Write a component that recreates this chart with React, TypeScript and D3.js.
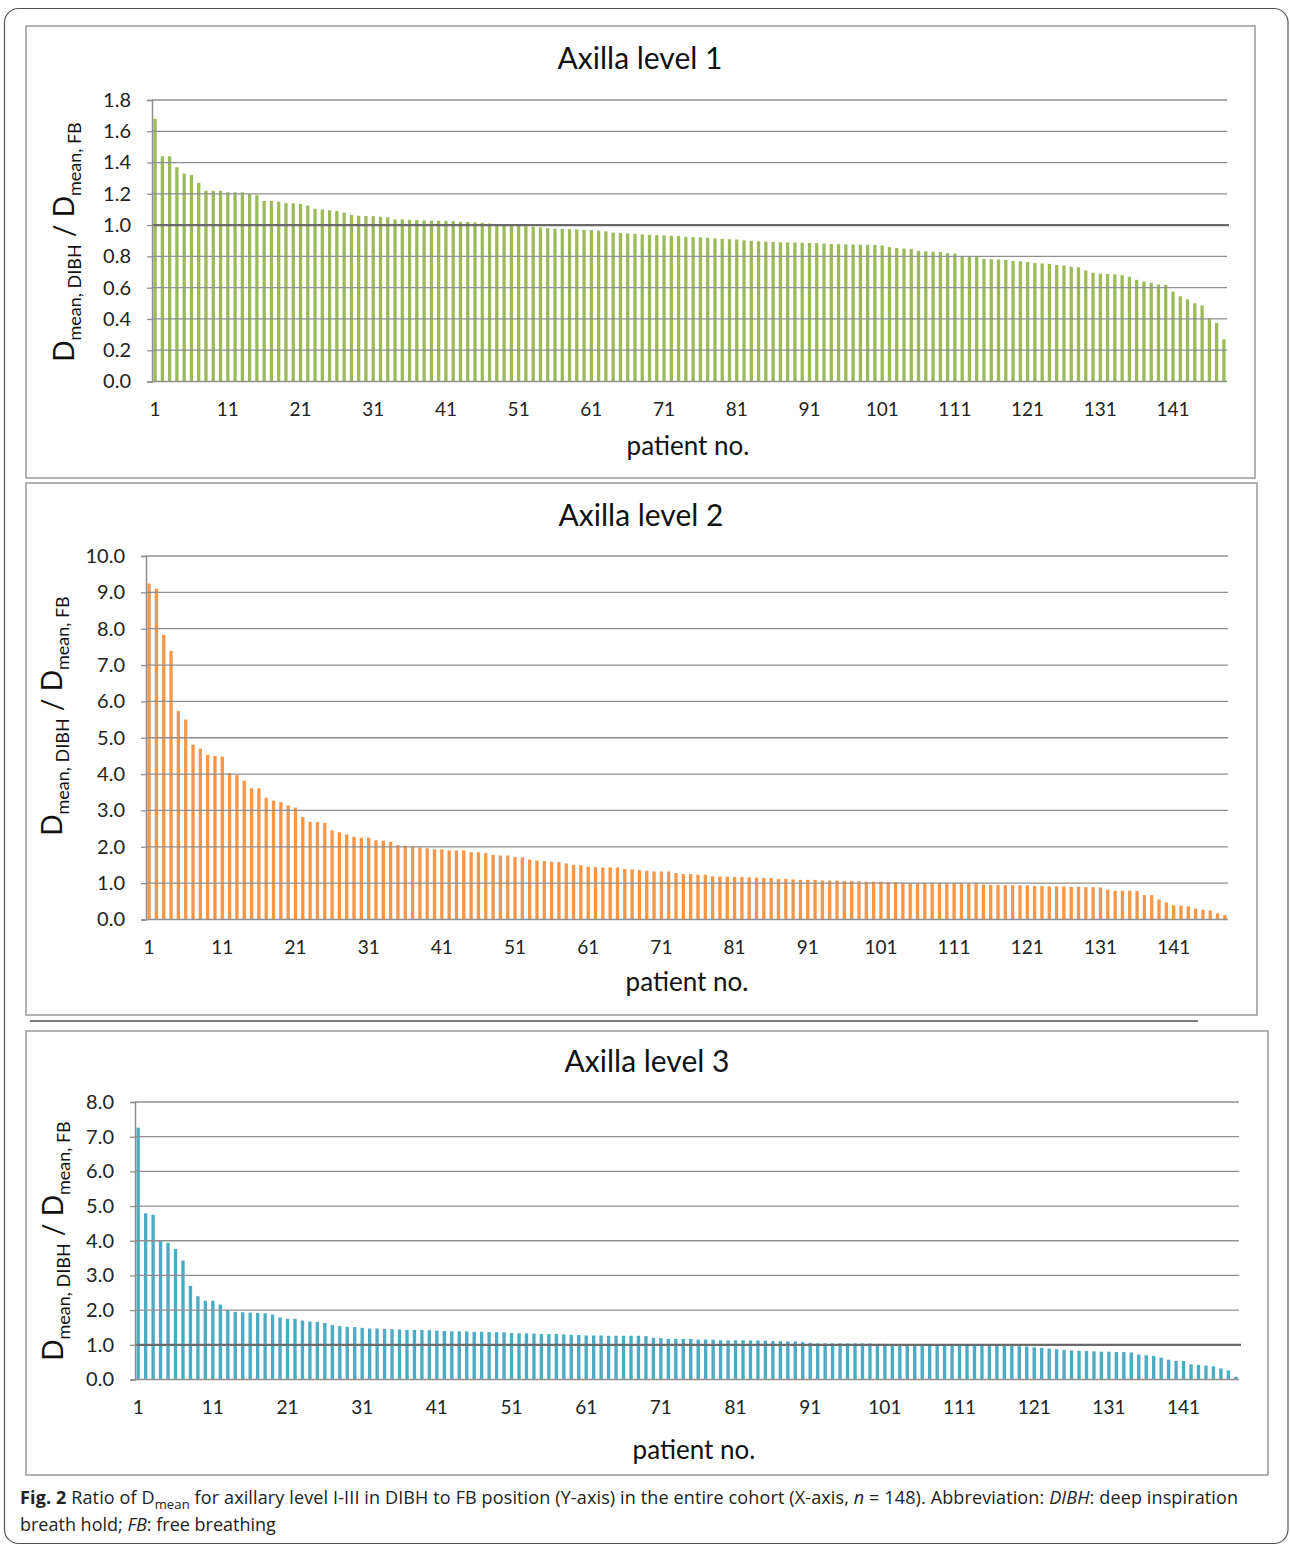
import React, { useEffect, useRef } from 'react';
import * as d3 from 'd3';

// ratio Dmean DIBH / Dmean FB, patients sorted descending
const level1 = [
  1.68, 1.44, 1.44, 1.37, 1.33, 1.32, 1.27, 1.22, 1.22, 1.22,
  1.21, 1.21, 1.21, 1.20, 1.19, 1.155, 1.155, 1.15, 1.14, 1.14,
  1.135, 1.125, 1.105, 1.10, 1.095, 1.09, 1.08, 1.065, 1.06, 1.058,
  1.057, 1.053, 1.05, 1.036, 1.036, 1.034, 1.032, 1.03, 1.028, 1.027,
  1.027, 1.025, 1.02, 1.02, 1.017, 1.015, 1.01, 1.005, 1.0, 0.998,
  0.995, 0.993, 0.99, 0.985, 0.98, 0.978, 0.976, 0.974, 0.972, 0.97,
  0.968, 0.965, 0.96, 0.953, 0.95, 0.947, 0.944, 0.94, 0.938, 0.936,
  0.934, 0.932, 0.93, 0.925, 0.923, 0.921, 0.92, 0.915, 0.912, 0.91,
  0.908, 0.903, 0.9, 0.896, 0.894, 0.892, 0.89, 0.889, 0.888, 0.887,
  0.886, 0.885, 0.882, 0.879, 0.878, 0.877, 0.876, 0.875, 0.874, 0.873,
  0.87, 0.86, 0.853, 0.85, 0.848, 0.835, 0.832, 0.83, 0.828, 0.82,
  0.818, 0.802, 0.8, 0.798, 0.783, 0.782, 0.78, 0.778, 0.77, 0.768,
  0.764, 0.757, 0.755, 0.752, 0.745, 0.742, 0.733, 0.73, 0.71, 0.695,
  0.69, 0.688, 0.685, 0.68, 0.67, 0.65, 0.64, 0.63, 0.62, 0.618,
  0.575, 0.545, 0.525, 0.50, 0.487, 0.40, 0.375, 0.27
];

const level2 = [
  9.24, 9.10, 7.83, 7.39, 5.74, 5.50, 4.81, 4.70, 4.53, 4.50,
  4.48, 4.03, 3.97, 3.82, 3.61, 3.61, 3.35, 3.27, 3.23, 3.14,
  3.08, 2.82, 2.69, 2.68, 2.66, 2.45, 2.40, 2.34, 2.28, 2.25,
  2.25, 2.18, 2.17, 2.14, 2.05, 2.03, 2.0, 1.98, 1.96, 1.93,
  1.93, 1.90, 1.90, 1.90, 1.85, 1.85, 1.83, 1.78, 1.76, 1.76,
  1.72, 1.71, 1.65, 1.62, 1.61, 1.59, 1.58, 1.54, 1.50, 1.49,
  1.45, 1.44, 1.43, 1.43, 1.43, 1.39, 1.38, 1.36, 1.34, 1.32,
  1.32, 1.32, 1.28, 1.25, 1.25, 1.23, 1.23, 1.19, 1.18, 1.18,
  1.17, 1.17, 1.16, 1.15, 1.14, 1.14, 1.12, 1.12, 1.10, 1.09,
  1.09, 1.09, 1.07, 1.07, 1.07, 1.06, 1.06, 1.05, 1.04, 1.04,
  1.04, 1.03, 1.03, 1.01, 1.0, 1.0, 1.0, 1.0, 1.0, 1.0,
  1.0, 1.0, 1.0, 1.0, 0.96, 0.95, 0.95, 0.94, 0.94, 0.94,
  0.94, 0.92, 0.92, 0.91, 0.91, 0.91, 0.90, 0.90, 0.89, 0.89,
  0.88, 0.82, 0.79, 0.79, 0.79, 0.78, 0.67, 0.67, 0.55, 0.47,
  0.39, 0.38, 0.36, 0.30, 0.27, 0.25, 0.17, 0.12
];

const level3 = [
  7.26, 4.79, 4.75, 4.0, 3.94, 3.76, 3.43, 2.70, 2.40, 2.27,
  2.27, 2.16, 2.0, 1.95, 1.94, 1.93, 1.92, 1.91, 1.875, 1.79,
  1.75, 1.75, 1.70, 1.67, 1.66, 1.63, 1.57, 1.54, 1.52, 1.51,
  1.49, 1.47, 1.47, 1.46, 1.45, 1.44, 1.43, 1.43, 1.43, 1.42,
  1.41, 1.40, 1.39, 1.385, 1.385, 1.375, 1.375, 1.365, 1.365, 1.36,
  1.34, 1.33, 1.33, 1.32, 1.31, 1.31, 1.31, 1.30, 1.29, 1.28,
  1.27, 1.27, 1.27, 1.26, 1.26, 1.26, 1.26, 1.26, 1.25, 1.20,
  1.19, 1.17, 1.17, 1.17, 1.17, 1.15, 1.15, 1.15, 1.13, 1.13,
  1.13, 1.13, 1.125, 1.125, 1.12, 1.105, 1.105, 1.10, 1.10, 1.08,
  1.06, 1.04, 1.04, 1.04, 1.04, 1.04, 1.04, 1.04, 1.04, 1.03,
  1.03, 1.01, 1.01, 1.01, 1.0, 1.0, 1.0, 1.0, 1.0, 1.0,
  1.0, 1.0, 1.0, 1.0, 1.0, 0.99, 0.98, 0.97, 0.96, 0.95,
  0.93, 0.91, 0.89, 0.87, 0.85, 0.84, 0.83, 0.82, 0.81, 0.80,
  0.80, 0.79, 0.79, 0.78, 0.72, 0.70, 0.68, 0.63, 0.57, 0.54,
  0.53, 0.44, 0.42, 0.40, 0.38, 0.32, 0.26, 0.08
];

const xTickLabels = [1, 11, 21, 31, 41, 51, 61, 71, 81, 91, 101, 111, 121, 131, 141];
const yTicks1 = [0, 0.2, 0.4, 0.6, 0.8, 1.0, 1.2, 1.4, 1.6, 1.8];
const yTicks2 = [0, 1, 2, 3, 4, 5, 6, 7, 8, 9, 10];
const yTicks3 = [0, 1, 2, 3, 4, 5, 6, 7, 8];
const titles = ['Axilla level 1', 'Axilla level 2', 'Axilla level 3'];

const FONT = 'Lato, "Open Sans", sans-serif';

function drawPanel(svg, o) {
  const n = o.values.length;
  const x = d3.scaleBand().domain(d3.range(1, n + 1)).range([o.x0, o.x1]).paddingInner(0.55).paddingOuter(0.2);
  const y = d3.scaleLinear().domain([0, o.ymax]).range([o.yBottom, o.yTop]);
  const g = svg.append('g');

  g.append('rect')
    .attr('x', o.box[0]).attr('y', o.box[1])
    .attr('width', o.box[2] - o.box[0]).attr('height', o.box[3] - o.box[1])
    .attr('fill', 'white').attr('stroke', '#9a9a9a').attr('stroke-width', 1.5);

  g.append('text')
    .attr('x', o.titleX).attr('y', o.titleY)
    .attr('text-anchor', 'middle')
    .style('font-family', FONT).style('font-size', '30px').style('fill', '#111')
    .text(o.title);

  // bars
  g.selectAll('rect.bar')
    .data(o.values)
    .enter().append('rect')
    .attr('class', 'bar')
    .attr('x', (d, i) => x(i + 1))
    .attr('width', x.bandwidth())
    .attr('y', d => y(d))
    .attr('height', d => y(0) - y(d))
    .attr('fill', o.color);

  // gridlines on top
  g.selectAll('line.grid')
    .data(o.yTicks)
    .enter().append('line')
    .attr('class', 'grid')
    .attr('x1', o.x0).attr('x2', o.x1)
    .attr('y1', d => y(d)).attr('y2', d => y(d))
    .attr('stroke', '#8f8f8f').attr('stroke-width', 1.3);

  if (o.refLine) {
    g.append('line')
      .attr('x1', o.x0).attr('x2', o.x1 + 2)
      .attr('y1', y(1) + 2).attr('y2', y(1) + 2)
      .attr('stroke', '#9a9a9a').attr('stroke-width', 4)
      .attr('filter', 'url(#soft)');
    g.append('line')
      .attr('x1', o.x0).attr('x2', o.x1 + 2)
      .attr('y1', y(1)).attr('y2', y(1))
      .attr('stroke', '#6a6a6a').attr('stroke-width', 2.2);
  }

  const yAxis = g.append('g')
    .attr('transform', `translate(${o.x0},0)`)
    .call(d3.axisLeft(y).tickValues(o.yTicks).tickFormat(d3.format('.1f')).tickSize(5).tickPadding(16));
  yAxis.select('.domain').attr('stroke', '#8f8f8f').attr('stroke-width', 1.5);
  yAxis.selectAll('.tick line').attr('stroke', '#8f8f8f').attr('stroke-width', 1.3);
  yAxis.selectAll('.tick text')
    .style('font-family', FONT).style('font-size', '20px').style('fill', '#222');

  const xAxis = g.append('g')
    .attr('transform', `translate(0,${o.yBottom})`)
    .call(d3.axisBottom(x).tickValues(xTickLabels).tickSize(0).tickPadding(21));
  xAxis.select('.domain').remove();
  xAxis.selectAll('.tick text')
    .style('font-family', FONT).style('font-size', '19px').style('fill', '#222');

  g.append('text')
    .attr('x', o.xTitleX).attr('y', o.xTitleY)
    .attr('text-anchor', 'middle')
    .style('font-family', FONT).style('font-size', '26px').style('fill', '#111')
    .text('patient no.');

  const yt = g.append('text')
    .attr('transform', `translate(${o.yTitleX},${o.yTitleY}) rotate(-90)`)
    .attr('text-anchor', 'middle')
    .style('font-family', FONT).style('font-size', '28px').style('fill', '#111');
  yt.append('tspan').text('D');
  yt.append('tspan').attr('dy', 7).style('font-size', '18px').text('mean, DIBH');
  yt.append('tspan').attr('dy', -7).text(' / D');
  yt.append('tspan').attr('dy', 7).style('font-size', '18px').text('mean, FB');
}

export default function App() {
  const ref = useRef(null);

  useEffect(() => {
    const svg = d3.select(ref.current);
    svg.selectAll('*').remove();

    const defs = svg.append('defs');
    defs.append('filter').attr('id', 'soft')
      .attr('x', '-5%').attr('y', '-200%').attr('width', '110%').attr('height', '500%')
      .append('feGaussianBlur').attr('stdDeviation', 1.4);

    svg.append('rect')
      .attr('x', 4.5).attr('y', 8.5).attr('width', 1283.5).attr('height', 1535)
      .attr('rx', 14).attr('fill', 'white').attr('stroke', '#555').attr('stroke-width', 1.2);

    drawPanel(svg, {
      values: level1, color: '#9bbb59', ymax: 1.8, yTicks: yTicks1, title: titles[0], refLine: true,
      box: [26, 26, 1255, 478], x0: 152, x1: 1227, yTop: 100, yBottom: 381.5,
      titleX: 640, titleY: 69, xTitleX: 688, xTitleY: 455, yTitleX: 74, yTitleY: 242
    });
    drawPanel(svg, {
      values: level2, color: '#f79646', ymax: 10, yTicks: yTicks2, title: titles[1], refLine: false,
      box: [26, 483, 1257, 1015], x0: 146, x1: 1228, yTop: 556, yBottom: 919.5,
      titleX: 641, titleY: 526, xTitleX: 687, xTitleY: 991, yTitleX: 62, yTitleY: 716
    });

    // stray shadow line between panels 2 and 3
    svg.append('line')
      .attr('x1', 30).attr('x2', 1198).attr('y1', 1022).attr('y2', 1022)
      .attr('stroke', '#888').attr('stroke-width', 3.5).attr('filter', 'url(#soft)');
    svg.append('line')
      .attr('x1', 30).attr('x2', 1198).attr('y1', 1021).attr('y2', 1021)
      .attr('stroke', '#7a7a7a').attr('stroke-width', 2);

    drawPanel(svg, {
      values: level3, color: '#4bacc6', ymax: 8, yTicks: yTicks3, title: titles[2], refLine: true,
      box: [26, 1031, 1268, 1475], x0: 135, x1: 1239, yTop: 1102, yBottom: 1379.5,
      titleX: 647, titleY: 1072, xTitleX: 694, xTitleY: 1459, yTitleX: 63, yTitleY: 1241
    });

    const cap = svg.append('g')
      .style('font-family', '"Open Sans", sans-serif').style('font-size', '18px').style('fill', '#222')
      .style('white-space', 'pre');
    const l1 = cap.append('text').attr('x', 20).attr('y', 1504).attr('textLength', 1218).attr('lengthAdjust', 'spacing');
    l1.append('tspan').style('font-weight', 'bold').text('Fig. 2');
    l1.append('tspan').text('  Ratio of D');
    l1.append('tspan').attr('dy', 5).style('font-size', '13px').text('mean');
    l1.append('tspan').attr('dy', -5).text(' for axillary level I-III in DIBH to FB position (Y-axis) in the entire cohort (X-axis, ');
    l1.append('tspan').style('font-style', 'italic').text('n');
    l1.append('tspan').text(' = 148). Abbreviation: ');
    l1.append('tspan').style('font-style', 'italic').text('DIBH');
    l1.append('tspan').text(': deep inspiration');
    const l2 = cap.append('text').attr('x', 20).attr('y', 1531);
    l2.append('tspan').text('breath hold; ');
    l2.append('tspan').style('font-style', 'italic').text('FB');
    l2.append('tspan').text(': free breathing');
  }, []);

  return (
    <div className="chart-wrapp">
      <svg ref={ref} width={1290} height={1546} style={{ position: 'absolute', left: 0, top: 0 }} />
    </div>
  );
}
